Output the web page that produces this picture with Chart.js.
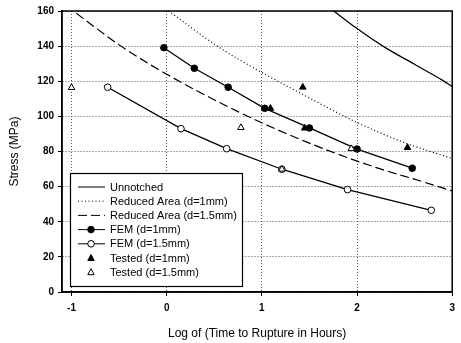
<!DOCTYPE html>
<html>
<head>
<meta charset="utf-8">
<script src="https://cdn.jsdelivr.net/npm/chart.js@4/dist/chart.umd.min.js"></script>
<style>
  html, body { margin: 0; padding: 0; background: #fff; }
  #wrap { width: 461px; height: 343px; position: relative; }
</style>
</head>
<body>
<div id="wrap"><canvas id="c" width="461" height="343"></canvas></div>
<script>
// Axis ticks
const xTicks = [-1, 0, 1, 2, 3];
const yTicks = [0, 20, 40, 60, 80, 100, 120, 140, 160];

// Analytical curves (log hours vs stress, MPa)
const unnotchedX = [1.755, 2.0, 2.28, 2.625, 2.9, 3.0];
const unnotchedY = [160, 150, 139.7, 129, 120.5, 117];
const reduced1X = [0.02, 0.54, 0.92, 1.44, 2.0, 2.5, 3.0];
const reduced1Y = [160, 139.7, 127.4, 112.2, 96.5, 85, 76];
const reduced15X = [-0.95, -0.48, 0.0, 0.75, 1.46, 2.17, 2.69, 3.0];
const reduced15Y = [158.7, 140, 124, 102.7, 85.6, 71.4, 62.8, 57.5];

// FEM predictions
const fem1X = [-0.03, 0.29, 0.646, 1.03, 1.5, 2.0, 2.58];
const fem1Y = [139.1, 127.4, 116.6, 104.6, 93.4, 81.4, 70.5];
const fem15X = [-0.62, 0.15, 0.63, 1.21, 1.9, 2.78];
const fem15Y = [116.6, 93, 81.6, 69.9, 58.3, 46.5];

// Test results
const test1X = [1.43, 1.09, 1.45, 2.53];
const test1Y = [116.6, 104.6, 93.3, 82.2];
const test15X = [-1.0, 0.78, 1.94, 1.21];
const test15Y = [116.4, 93.6, 81.6, 69.9];

const pts = (xs, ys) => xs.map((x, i) => ({ x: x, y: ys[i] }));

const legendItems = [
  { label: 'Unnotched', line: [] },
  { label: 'Reduced Area (d=1mm)', line: [1, 2.5] },
  { label: 'Reduced Area (d=1.5mm)', line: [9, 4] },
  { label: 'FEM (d=1mm)', line: [], marker: 'circle', fill: '#000' },
  { label: 'FEM (d=1.5mm)', line: [], marker: 'circle', fill: '#fff' },
  { label: 'Tested (d=1mm)', marker: 'triangle', fill: '#000' },
  { label: 'Tested (d=1.5mm)', marker: 'triangle', fill: '#fff' }
];

function drawMarker(ctx, type, x, y, fill) {
  ctx.save();
  ctx.setLineDash([]);
  ctx.lineWidth = 1;
  ctx.strokeStyle = '#000';
  ctx.fillStyle = fill;
  ctx.beginPath();
  if (type === 'circle') {
    ctx.arc(x, y, 3.3, 0, Math.PI * 2);
  } else {
    ctx.moveTo(x, y - 3.5);
    ctx.lineTo(x + 3.2, y + 2.5);
    ctx.lineTo(x - 3.2, y + 2.5);
    ctx.closePath();
  }
  ctx.fill();
  ctx.stroke();
  ctx.restore();
}

const framePlugin = {
  id: 'frameAndKey',
  afterDraw(chart) {
    const ctx = chart.ctx;
    const a = chart.chartArea;
    ctx.save();
    ctx.strokeStyle = '#000';
    ctx.lineWidth = 1.5;
    ctx.setLineDash([]);
    ctx.strokeRect(a.left, a.top, a.right - a.left, a.bottom - a.top);

    // key box
    const bx = 70.5, by = 173.5, bw = 172, bh = 113;
    ctx.fillStyle = '#fff';
    ctx.fillRect(bx, by, bw, bh);
    ctx.lineWidth = 1.2;
    ctx.strokeRect(bx, by, bw, bh);

    ctx.font = '11px "Liberation Sans", Arial, sans-serif';
    ctx.textBaseline = 'middle';
    ctx.textAlign = 'left';
    legendItems.forEach((it, i) => {
      const y = 187 + i * 14.2;
      if (it.line) {
        ctx.save();
        ctx.lineWidth = 1;
        ctx.setLineDash(it.line);
        ctx.beginPath();
        ctx.moveTo(78, y);
        ctx.lineTo(105, y);
        ctx.stroke();
        ctx.restore();
      }
      if (it.marker) drawMarker(ctx, it.marker, 91, y, it.fill);
      ctx.fillStyle = '#000';
      ctx.fillText(it.label, 110, y + 0.5);
    });
    ctx.restore();
  }
};

const curve = (label, xs, ys, dash) => ({
  label: label,
  data: pts(xs, ys),
  showLine: true,
  borderColor: '#000',
  borderWidth: dash.length ? 1.2 : 1.3,
  borderDash: dash,
  pointRadius: 0,
  cubicInterpolationMode: 'monotone',
  fill: false
});

const marked = (label, xs, ys, style, fillColor, line) => ({
  label: label,
  data: pts(xs, ys),
  showLine: line,
  borderColor: '#000',
  borderWidth: 1.3,
  pointStyle: style,
  pointRadius: style === 'triangle' ? 3.8 : 3.3,
  pointBorderWidth: 1,
  pointBorderColor: '#000',
  pointBackgroundColor: fillColor,
  backgroundColor: fillColor,
  tension: 0,
  fill: false
});

const gridOpts = {
  color: '#555', lineWidth: 1,
  drawTicks: true, tickLength: 4, tickColor: '#000', tickBorderDash: [], tickWidth: 1
};
const tickFont = { family: '"Liberation Sans", Arial, sans-serif', size: 10, weight: 'bold' };
const titleFont = { family: '"Liberation Sans", Arial, sans-serif', size: 12 };

new Chart(document.getElementById('c'), {
  type: 'scatter',
  data: {
    datasets: [
      curve('Unnotched', unnotchedX, unnotchedY, []),
      curve('Reduced Area (d=1mm)', reduced1X, reduced1Y, [1, 2.5]),
      curve('Reduced Area (d=1.5mm)', reduced15X, reduced15Y, [9, 4]),
      marked('Tested (d=1mm)', test1X, test1Y, 'triangle', '#000', false),
      marked('Tested (d=1.5mm)', test15X, test15Y, 'triangle', '#fff', false),
      marked('FEM (d=1mm)', fem1X, fem1Y, 'circle', '#000', true),
      marked('FEM (d=1.5mm)', fem15X, fem15Y, 'circle', '#fff', true)
    ]
  },
  options: {
    responsive: false,
    animation: false,
    devicePixelRatio: 1,
    layout: { padding: { top: 11, right: 5, left: 0, bottom: 0 } },
    plugins: { legend: { display: false }, tooltip: { enabled: false } },
    scales: {
      x: {
        type: 'linear',
        min: -1.1,
        max: 3,
        afterBuildTicks: s => { s.ticks = xTicks.map(v => ({ value: v })); },
        afterFit: s => { s.height = 51; },
        grid: gridOpts,
        border: { color: '#000', width: 1.5, dash: [1, 2] },
        ticks: { color: '#000', padding: 6, font: tickFont },
        title: {
          display: true,
          text: 'Log of (Time to Rupture in Hours)',
          color: '#000',
          font: titleFont,
          padding: { top: 0, bottom: 2 }
        }
      },
      y: {
        type: 'linear',
        min: 0,
        max: 160,
        afterBuildTicks: s => { s.ticks = yTicks.map(v => ({ value: v })); },
        afterFit: s => { s.width = 62; },
        grid: gridOpts,
        border: { color: '#000', width: 1.5, dash: [1, 2] },
        ticks: { color: '#000', padding: 4, font: tickFont },
        title: {
          display: true,
          text: 'Stress (MPa)',
          color: '#000',
          font: titleFont,
          padding: { top: 7, bottom: 0 }
        }
      }
    }
  },
  plugins: [framePlugin]
});
</script>
</body>
</html>
